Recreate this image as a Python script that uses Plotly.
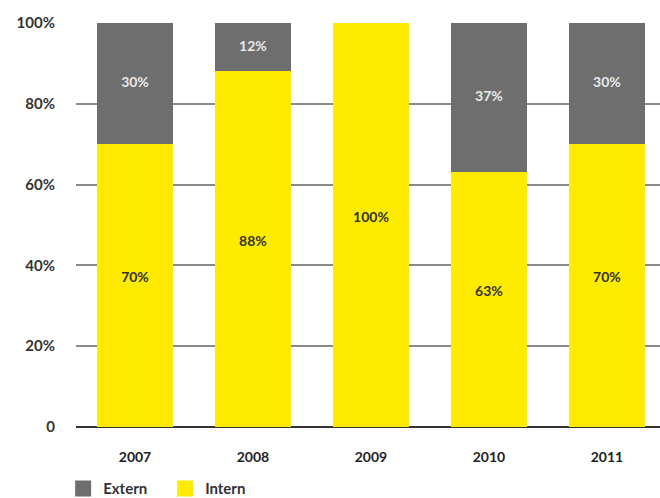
import plotly.graph_objects as go

years = ["2007", "2008", "2009", "2010", "2011"]
intern = [70, 88, 100, 63, 70]
extern = [30, 12, 0, 37, 30]
y_ticks = [0, 20, 40, 60, 80, 100]
y_tick_labels = ["0", "20%", "40%", "60%", "80%", "100%"]

GRAY = "#6e6e6e"
YELLOW = "#ffeb00"
FONT = "Lato"

fig = go.Figure()
fig.add_trace(go.Bar(x=years, y=intern, name="Intern", showlegend=False,
                     marker=dict(color=YELLOW, line=dict(width=0))))
fig.add_trace(go.Bar(x=years, y=extern, name="Extern", showlegend=False,
                     marker=dict(color=GRAY, line=dict(width=0))))

# value labels inside each segment
fig.add_trace(go.Scatter(
    x=years, y=[v / 2 for v in intern], mode="text",
    text=[f"<b>{v}%</b>" for v in intern], textposition="top center",
    textfont=dict(family=FONT, size=14, color="#333333"),
    showlegend=False, hoverinfo="skip"))
ext_x = [yr for yr, v in zip(years, extern) if v > 0]
ext_y = [i + v / 2 for i, v in zip(intern, extern) if v > 0]
ext_t = [f"<b>{v}%</b>" for v in extern if v > 0]
fig.add_trace(go.Scatter(
    x=ext_x, y=ext_y, mode="text", text=ext_t, textposition="middle center",
    textfont=dict(family=FONT, size=14, color="#e8e8e8"),
    showlegend=False, hoverinfo="skip"))

# legend entries with larger square swatches
for name, color in [("Extern", GRAY), ("Intern", YELLOW)]:
    fig.add_trace(go.Scatter(x=[None], y=[None], mode="markers", name=name,
                             marker=dict(symbol="square", size=16, color=color)))

fig.update_layout(
    width=660, height=498,
    margin=dict(l=76, r=0, t=23, b=71, autoexpand=False),
    barmode="stack", bargap=0.36,
    plot_bgcolor="white", paper_bgcolor="white",
    font=dict(family=FONT, size=14, color="#333333"),
    legend=dict(orientation="h", x=-0.022, y=-0.153, xanchor="left", yanchor="middle",
                traceorder="normal",
                font=dict(family=FONT, size=15, color="#333333", weight="bold"),
                itemwidth=30, entrywidth=57),
    showlegend=True,
)
fig.update_xaxes(type="category", range=[-0.5, 4.45], showgrid=False, showline=False, ticks="",
                 tickfont=dict(family=FONT, size=14, color="#222222", weight="bold"),
                 ticklabelstandoff=20)
fig.update_yaxes(range=[0, 100], tickvals=y_ticks, ticktext=y_tick_labels,
                 showgrid=True, gridcolor="#8a8a8a", gridwidth=1.5,
                 zeroline=True, zerolinecolor="#333333", zerolinewidth=2,
                 showline=False, ticks="", ticklabelstandoff=20,
                 tickfont=dict(family=FONT, size=15, color="#333333", weight="bold"))

fig.write_html("out.html")
